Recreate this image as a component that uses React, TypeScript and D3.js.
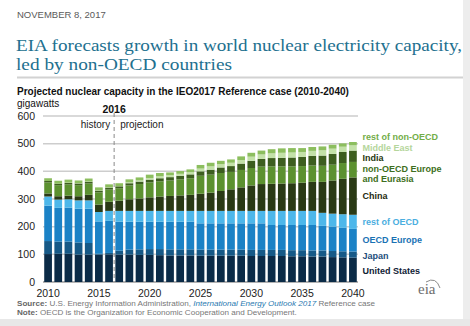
import React from 'react';
import * as d3 from 'd3';

const years = [2010, 2011, 2012, 2013, 2014, 2015, 2016, 2017, 2018, 2019, 2020, 2021, 2022, 2023, 2024, 2025, 2026, 2027, 2028, 2029, 2030, 2031, 2032, 2033, 2034, 2035, 2036, 2037, 2038, 2039, 2040];

const unitedStates = [101, 102, 102, 99, 99, 99, 100, 99, 99, 98, 98, 97, 96, 96, 96, 95, 95, 95, 95, 95, 94, 94, 94, 94, 93, 93, 92, 92, 90, 89, 88];
const japan = [47, 44, 44, 44, 42, 3, 5, 14, 18, 20, 21, 22, 22, 22, 22, 22, 22, 22, 22, 22, 22, 22, 22, 22, 22, 22, 22, 22, 22, 22, 22];
const oecdEurope = [128, 122, 123, 122, 124, 117, 116, 105, 101, 100, 99, 99, 100, 100, 100, 95, 95, 95, 95, 95, 96, 96, 90, 90, 91, 91, 92, 89, 88, 85, 82];
const restOfOecd = [33, 30, 30, 30, 30, 34, 36, 39, 39, 39, 39, 39, 39, 39, 39, 45, 45, 45, 45, 45, 45, 45, 51, 51, 51, 51, 51, 47, 47, 49, 51];
const china = [11, 12, 13, 15, 20, 27, 33, 37, 42, 45, 49, 52, 54, 56, 58, 62, 66, 72, 78, 85, 92, 97, 98, 99, 100, 102, 105, 112, 120, 128, 135];
const nonOecdEurasia = [40, 40, 41, 40, 41, 44, 44, 45, 50, 52, 54, 55, 56, 58, 60, 65, 65, 65, 63, 63, 63, 63, 63, 62, 61, 60, 59, 58, 57, 57, 56];
const india = [5, 5, 5, 6, 6, 6, 7, 7, 8, 9, 10, 11, 12, 13, 14, 16, 18, 20, 21, 23, 26, 28, 30, 31, 32, 33, 35, 37, 39, 40, 41];
const middleEast = [0, 0, 1, 1, 1, 1, 1, 1, 3, 4, 6, 7, 7, 7, 8, 10, 12, 12, 12, 13, 15, 16, 17, 18, 18, 18, 18, 19, 19, 19, 19];
const restOfNonOecd = [10, 11, 11, 10, 11, 11, 11, 10, 11, 11, 12, 12, 10, 10, 10, 13, 13, 12, 12, 13, 14, 14, 15, 16, 16, 14, 14, 14, 14, 12, 12];

const seriesKeys = ['us', 'japan', 'oecdEurope', 'restOecd', 'china', 'nonOecdEurasia', 'india', 'middleEast', 'restNonOecd'];
const seriesValues = [unitedStates, japan, oecdEurope, restOfOecd, china, nonOecdEurasia, india, middleEast, restOfNonOecd];
const seriesColors = ['#0b2b47', '#165987', '#1b82c6', '#4db7ea', '#2a3a15', '#5c9130', '#3d5e1f', '#c3e1a8', '#8cbe5e'];
const legendLabels = [['United States'], ['Japan'], ['OECD Europe'], ['rest of OECD'], ['China'], ['non-OECD Europe', 'and Eurasia'], ['India'], ['Middle East'], ['rest of non-OECD']];
const legendColors = ['#0f2236', '#1d4e7c', '#1a72b4', '#4aaee0', '#1e2a10', '#3d6e20', '#27360f', '#b5d69c', '#72ad48'];

const titleLines = ['EIA forecasts growth in world nuclear electricity capacity,', 'led by non-OECD countries'];
const xTickYears = [2010, 2015, 2020, 2025, 2030, 2035, 2040];
const yTicks = [0, 100, 200, 300, 400, 500, 600];

const legendY = [274, 259, 242.5, 224.5, 199, 172, 161, 151, 140];

export default function App() {
  const x = d3.scaleBand<string>().domain(years.map(String)).range([43, 358]).paddingInner(0.24).paddingOuter(0.12);
  const y = d3.scaleLinear().domain([0, 600]).range([282, 116]);
  const table = years.map((yr, i) => {
    const row: any = { year: String(yr) };
    seriesKeys.forEach((k, j) => { row[k] = seriesValues[j][i]; });
    return row;
  });
  const stacked = d3.stack<any>().keys(seriesKeys)(table);
  const bw = x.bandwidth();
  const dashX = ((x('2016') as number) + bw + (x('2017') as number)) / 2;
  const sans = 'Liberation Sans, Arial, sans-serif';
  const serif = 'Liberation Serif, Times New Roman, serif';

  return (
    <svg width={470} height={326} style={{ position: 'absolute', left: 0, top: 0 }} fontFamily={sans}>
      <rect x={0} y={0} width={470} height={326} fill="#ffffff" />
      <rect x={463} y={0} width={7} height={326} fill="#ededed" />
      <rect x={0} y={319} width={470} height={7} fill="#e8e8e8" />
      <text x={17} y={17.5} fontSize={9.5} fill="#5a5a5a">NOVEMBER 8, 2017</text>
      <text x={16} y={51} fontFamily={serif} fontSize={17} fill="#22708f" textLength={446} lengthAdjust="spacingAndGlyphs">{titleLines[0]}</text>
      <text x={16} y={70} fontFamily={serif} fontSize={17} fill="#22708f" textLength={216} lengthAdjust="spacingAndGlyphs">{titleLines[1]}</text>
      <line x1={17} x2={463} y1={77.5} y2={77.5} stroke="#d2d2d2" strokeWidth={2} />
      <text x={17} y={95} fontSize={10} fontWeight="bold" fill="#111">Projected nuclear capacity in the IEO2017 Reference case (2010-2040)</text>
      <text x={17} y={106.5} fontSize={10} fill="#111">gigawatts</text>

      {yTicks.map(t => (
        <g key={t}>
          <line x1={43} x2={358} y1={y(t)} y2={y(t)} stroke={t === 0 ? '#9a9a9a' : '#cdcdcd'} strokeWidth={1.5} />
          <text x={35} y={y(t) + 3.8} textAnchor="end" fontSize={10.5} fill="#222">{t}</text>
        </g>
      ))}

      {stacked.map((layer, li) => (
        <g key={layer.key} fill={seriesColors[li]}>
          {layer.map((d, i) => (
            <rect key={i} x={x(table[i].year)} width={bw} y={y(d[1])} height={Math.max(0, y(d[0]) - y(d[1]))} />
          ))}
        </g>
      ))}

      <line x1={dashX} x2={dashX} y1={113} y2={282} stroke="#8a8a8a" strokeWidth={1} strokeDasharray="4,3" />
      <text x={dashX} y={112.5} textAnchor="middle" fontSize={10.5} fontWeight="bold" fill="#111">2016</text>
      <text x={dashX - 4} y={128} textAnchor="end" fontSize={10} fill="#222">history</text>
      <text x={dashX + 6} y={128} fontSize={10} fill="#222">projection</text>

      {xTickYears.map(t => (
        <text key={t} x={(x(String(t)) as number) + bw / 2} y={297} textAnchor="middle" fontSize={10.5} fill="#222">{t}</text>
      ))}

      {legendLabels.map((lines, i) => (
        <text key={i} x={362.5} y={legendY[i]} fontSize={9} fontWeight="bold" fill={legendColors[i]}>
          {lines.map((l, k) => <tspan key={k} x={362.5} dy={k === 0 ? 0 : 10}>{l}</tspan>)}
        </text>
      ))}

      <g>
        <text x={418} y={294} fontFamily={serif} fontSize={15} fill="#6d6d6d">eia</text>
        <path d="M426,282 Q436,276 440,288" fill="none" stroke="#8a8a8a" strokeWidth={1} />
      </g>

      <text x={17} y={306} fontSize={8.1} fill="#777">
        <tspan fontWeight="bold" fill="#666">Source: </tspan>
        <tspan>U.S. Energy Information Administration, </tspan>
        <tspan fontStyle="italic" fill="#2a79b0">International Energy Outlook 2017</tspan>
        <tspan> Reference case</tspan>
      </text>
      <text x={17} y={315} fontSize={8.1} fill="#777">
        <tspan fontWeight="bold" fill="#666">Note: </tspan>
        <tspan>OECD is the Organization for Economic Cooperation and Development.</tspan>
      </text>
    </svg>
  );
}
